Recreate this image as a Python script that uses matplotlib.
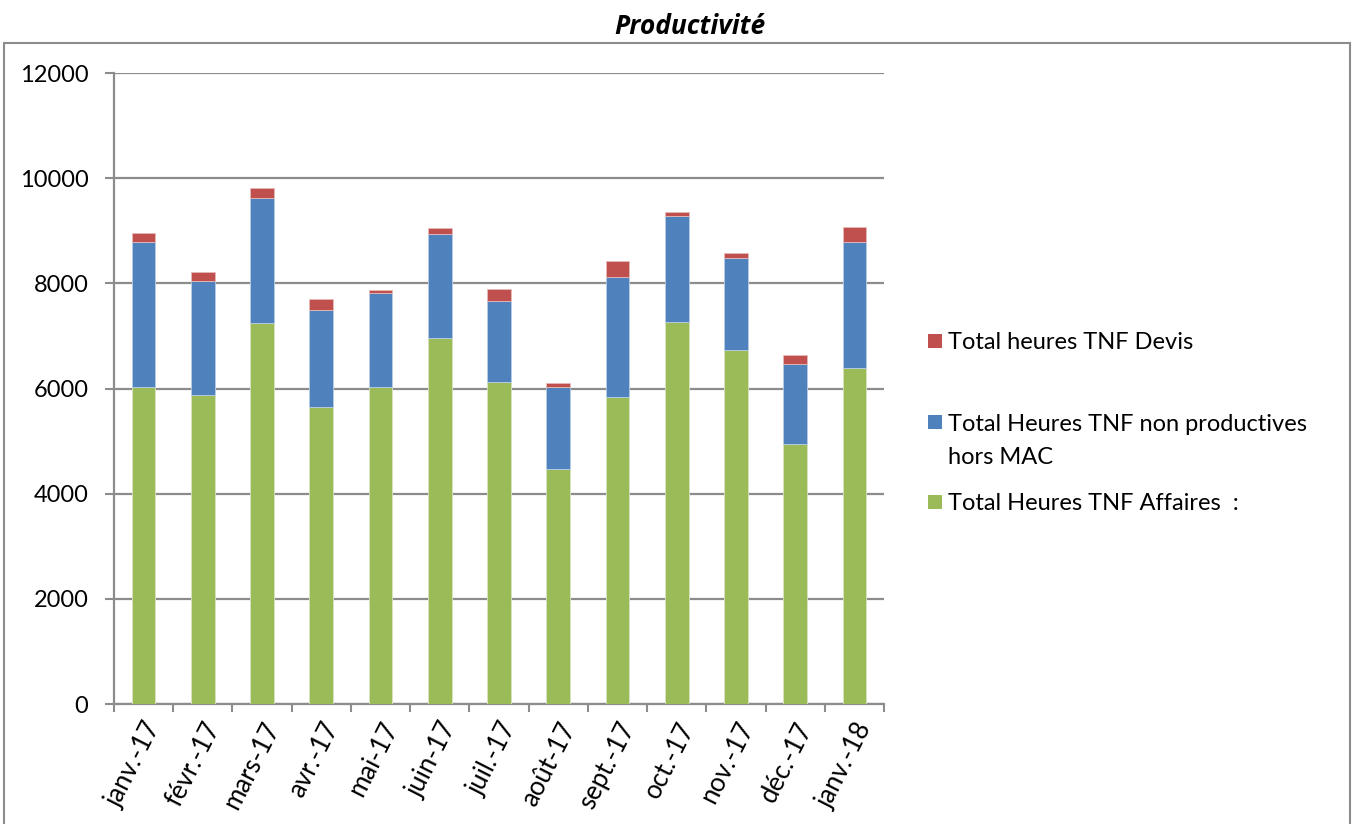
import matplotlib.pyplot as plt
from matplotlib.patches import Rectangle

months = ["janv.-17", "févr.-17", "mars-17", "avr.-17", "mai-17", "juin-17",
          "juil.-17", "août-17", "sept.-17", "oct.-17", "nov.-17", "déc.-17",
          "janv.-18"]

affaires = [6026, 5880, 7249, 5657, 6026, 6963, 6127, 4473, 5842, 7268, 6735, 4948, 6393]
non_prod = [2757, 2161, 2382, 1833, 1793, 1983, 1540, 1559, 2281, 2009, 1755, 1515, 2390]
devis = [171, 171, 178, 209, 51, 114, 228, 70, 310, 76, 89, 183, 285]

labels = ["Total heures TNF Devis",
          "Total Heures TNF non productives\nhors MAC",
          "Total Heures TNF Affaires  :"]
colors = ["#C0504D", "#4F81BD", "#9BBB59"]

plt.rcParams['font.family'] = ['Lato', 'DejaVu Sans']
grey = "#8c8c8c"

fig = plt.figure(figsize=(13.54, 8.24), dpi=100)
ax = fig.add_axes([0.0842, 0.1456, 0.5687, 0.7658])

x = list(range(len(months)))
bottom2 = [a + b for a, b in zip(affaires, non_prod)]
w = 0.4
ax.bar(x, affaires, w, color=colors[2], edgecolor="#d7e4bd", linewidth=0.6, zorder=3)
ax.bar(x, non_prod, w, bottom=affaires, color=colors[1], edgecolor="#b9cde5", linewidth=0.6, zorder=3)
ax.bar(x, devis, w, bottom=bottom2, color=colors[0], edgecolor="#e6b9b8", linewidth=0.6, zorder=3)

ax.set_xlim(-0.5, len(months) - 0.5)
ax.set_ylim(0, 12000)
ax.set_yticks(range(0, 12001, 2000))
ax.tick_params(axis='y', labelsize=17, length=6.5, width=1.5, color=grey, pad=12)
ax.set_xticks(x)
ax.set_xticklabels(months, rotation=63, ha='right', va='top', rotation_mode='anchor', fontsize=18.5)
ax.set_xticks([i - 0.5 for i in range(len(months) + 1)], minor=True)
ax.tick_params(axis='x', which='major', length=0, pad=10)
ax.tick_params(axis='x', which='minor', length=6, width=1.5, color=grey)
ax.yaxis.grid(True, color=grey, linewidth=1.6, zorder=0)
ax.set_axisbelow(True)
for s in ['top', 'right']:
    ax.spines[s].set_visible(False)
for s in ['left', 'bottom']:
    ax.spines[s].set_color(grey)
    ax.spines[s].set_linewidth(1.6)

# outer chart frame
fig.patches.append(Rectangle((4 / 1354, -0.01), 1346 / 1354, (824 - 43) / 824 + 0.01,
                             transform=fig.transFigure, fill=False, edgecolor=grey,
                             linewidth=1.5))

fig.text(690 / 1354, 1 - 34 / 824, "Productivité", ha='center', va='baseline',
         fontsize=19, fontweight='bold', fontstyle='italic', family='Open Sans')

# legend (handle lines up with the first line of each label)
leg_y = [341, 422, 502]
for lab, col, yy in zip(labels, colors, leg_y):
    fig.patches.append(Rectangle((928 / 1354, 1 - (yy + 7) / 824), 14 / 1354, 14 / 824,
                                 transform=fig.transFigure, facecolor=col, edgecolor='none'))
    base = yy + 8.5 + 33 * lab.count('\n')
    fig.text(948 / 1354, 1 - base / 824, lab, ha='left', va='baseline', fontsize=17,
             linespacing=1.65)

fig.savefig("out.png", dpi=100)
